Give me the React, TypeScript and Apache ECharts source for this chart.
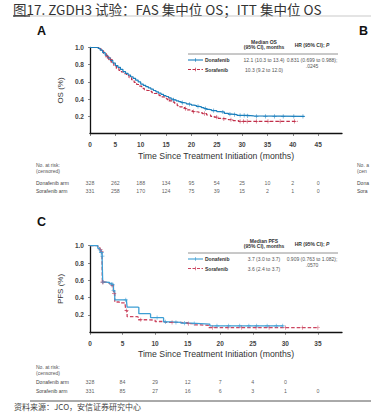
import React, { useEffect, useRef } from 'react';
import * as echarts from 'echarts';

const titleText = '图17. ZGDH3 试验：FAS 集中位 OS；ITT 集中位 OS';
const sourceText = '资料来源：JCO，安信证券研究中心';

// OS (panel A) Kaplan-Meier step points [months, survival]
const osDonafenib: [number, number][] = [
  [0, 1], [1.3, 1], [1.6, 0.99], [2.0, 0.97], [2.5, 0.94], [3.0, 0.91], [3.5, 0.88], [4.0, 0.85], [4.5, 0.82],
  [5.0, 0.79], [5.5, 0.77], [6.0, 0.745], [6.5, 0.72], [7.0, 0.70], [7.5, 0.68], [8.0, 0.66], [8.5, 0.64],
  [9.0, 0.62], [9.5, 0.60], [10.0, 0.575], [10.5, 0.56], [11, 0.545], [11.5, 0.53], [12, 0.515], [12.5, 0.50],
  [13, 0.485], [13.5, 0.47], [14, 0.455], [14.5, 0.44], [15, 0.43], [15.5, 0.415], [16, 0.40], [16.5, 0.39],
  [17, 0.38], [17.5, 0.37], [18, 0.36], [18.5, 0.355], [19, 0.345], [19.5, 0.34], [20, 0.33], [20.5, 0.325],
  [21, 0.315], [21.5, 0.31], [22, 0.30], [22.5, 0.29], [23, 0.28], [23.5, 0.275], [24, 0.265], [25, 0.255],
  [25.7, 0.25], [26.5, 0.235], [27.3, 0.225], [28, 0.22], [29, 0.21], [31, 0.205], [32.3, 0.20], [42.3, 0.20],
];
const osSorafenib: [number, number][] = [
  [0, 1], [1.3, 1], [1.7, 0.985], [2.2, 0.96], [2.7, 0.93], [3.2, 0.89], [3.7, 0.86], [4.2, 0.82], [4.7, 0.785],
  [5.2, 0.755], [5.7, 0.735], [6.2, 0.715], [6.7, 0.695], [7.2, 0.675], [7.7, 0.65], [8.2, 0.625], [8.7, 0.595],
  [9.2, 0.57], [9.7, 0.55], [10.2, 0.525], [10.7, 0.51], [11.2, 0.50], [11.7, 0.49], [12.2, 0.475], [12.7, 0.465],
  [13.2, 0.45], [13.7, 0.44], [14.2, 0.425], [14.7, 0.41], [15.2, 0.395], [15.7, 0.38], [16.2, 0.365],
  [16.7, 0.345], [17.2, 0.325], [17.7, 0.31], [18.2, 0.30], [18.7, 0.29], [19.2, 0.275], [19.7, 0.265],
  [20.2, 0.255], [20.7, 0.25], [21.5, 0.24], [22.2, 0.23], [23, 0.215], [23.8, 0.20], [24.5, 0.19],
  [25.3, 0.175], [26, 0.17], [27.3, 0.16], [28.2, 0.15], [29.3, 0.14], [41, 0.14],
];
const osDonCensor = [16.5, 18.2, 19.6, 21.3, 22.8, 24.4, 26.2, 27.6, 28.5, 29.6, 30.4, 31.1, 32.8, 34.6, 36.4, 38.1, 40.2, 42.0];
const osSoraCensor = [3.4, 4.1, 15.6, 18.8, 20.4, 22.6, 25.0, 26.4, 27.8, 29.6, 30.3, 31.0, 32.8, 35.1, 37.5, 40.3];

// PFS (panel C)
const pfsDonafenib: [number, number][] = [
  [0, 1], [0.9, 1], [1.2, 0.97], [1.5, 0.95], [1.7, 0.92], [1.85, 0.88], [1.95, 0.58], [2.5, 0.575],
  [3.0, 0.565], [3.3, 0.555], [3.6, 0.48], [3.8, 0.375], [5.6, 0.365], [5.7, 0.29], [7.4, 0.285],
  [7.5, 0.215], [9.2, 0.21], [9.3, 0.17], [11.2, 0.165], [11.3, 0.12], [12.5, 0.115], [14, 0.105],
  [15.5, 0.10], [17, 0.095], [18.4, 0.075], [29.7, 0.075],
];
const pfsSorafenib: [number, number][] = [
  [0, 1], [0.9, 1], [1.2, 0.975], [1.5, 0.955], [1.7, 0.93], [1.85, 0.85], [1.9, 0.58], [2.5, 0.57],
  [3.0, 0.56], [3.3, 0.54], [3.6, 0.45], [3.8, 0.35], [4.5, 0.34], [5.4, 0.32], [5.5, 0.25], [5.7, 0.18],
  [7.3, 0.175], [7.4, 0.145], [9, 0.14], [10, 0.125], [11.5, 0.115], [13, 0.11], [15, 0.10], [16, 0.085],
  [17, 0.08], [18.2, 0.055], [35, 0.055],
];
const pfsDonCensor = [1.5, 1.7, 1.8, 1.9, 2.0, 3.3, 3.5, 3.6, 5.5, 10.3, 11.6, 13.2, 14.5, 16.0, 19.5, 21.3, 23.0, 24.4, 25.6, 27.2, 28.6, 29.6];
const pfsSoraCensor = [1.6, 1.8, 1.9, 2.0, 3.4, 3.7, 5.6, 7.8, 12.6, 15.1, 18.8, 21.2, 23.3, 25.5, 27.5, 30.0, 32.6, 35.0];

// Tick labels
const osTicks = [0, 5, 10, 15, 20, 25, 30, 35, 40, 45];
const pfsTicks = [0, 5, 10, 15, 20, 25, 30, 35];
const yTicks = [0.2, 0.4, 0.6, 0.8, 1.0];

// Number at risk
const osRiskDon = [328, 262, 188, 134, 95, 54, 25, 10, 2, 0];
const osRiskSora = [331, 258, 170, 124, 75, 39, 15, 2, 1, 0];
const pfsRiskDon = [328, 84, 29, 12, 7, 4, 0];
const pfsRiskSora = [331, 85, 27, 16, 6, 3, 1, 0];

// Legend tables
const osLegendHeader = ['Median OS', '(95% CI), months'];
const pfsLegendHeader = ['Median PFS', '(95% CI), months'];
const armNames = ['Donafenib', 'Sorafenib'];
const osMedians = ['12.1 (10.3 to 13.4)', '10.3 (9.2 to 12.0)'];
const pfsMedians = ['3.7 (3.0 to 3.7)', '3.6 (2.4 to 3.7)'];
const osHR = ['0.831 (0.699 to 0.988);', '.0245'];
const pfsHR = ['0.909 (0.763 to 1.082);', '.0570'];
const riskRowLabels = ['Donafenib arm', 'Sorafenib arm'];

const BLUE_A = '#1b7fbd';
const RED_A = '#c12f4a';
const BLUE_C = '#3d9ed4';
const RED_C = '#cc4660';
const FONT = 'Liberation Sans, Arial, sans-serif';

function stepValue(curve: [number, number][], t: number) {
  let v = curve[0][1];
  for (const [x, y] of curve) {
    if (x <= t) v = y;
    else break;
  }
  return v;
}

const PLUS = 'path://M0.42,0H0.58V1H0.42Z M0,0.42H1V0.58H0Z';

export default function App() {
  const ref = useRef<HTMLDivElement>(null);
  useEffect(() => {
    if (!ref.current) return;
    const chart = echarts.init(ref.current, undefined, { renderer: 'svg' });

    const gA = { left: 90, top: 47.5, width: 252, height: 86 };
    const gC = { left: 90, top: 245.7, width: 252, height: 86.6 };
    const maxA = 49.7;
    const maxC = 38.7;

    const xAxisBase = (max: number, ticks: number[], gridIndex: number, name: string, nameGap: number, labelMargin: number) => ({
      type: 'value', gridIndex, min: 0, max, interval: 5,
      name, nameLocation: 'middle', nameGap,
      nameTextStyle: { fontFamily: FONT, fontSize: 8.7, color: '#333' },
      axisLine: { show: true, onZero: false, lineStyle: { color: '#111', width: 1.3 } },
      axisTick: { show: true, length: 2.5, customValues: ticks, lineStyle: { color: '#333', width: 0.6 } },
      axisLabel: { show: true, customValues: ticks, margin: labelMargin, fontFamily: FONT, fontSize: 6.5, color: '#444', fontWeight: 'bold' },
      splitLine: { show: false },
    });
    const yAxisBase = (gridIndex: number, name: string) => ({
      type: 'value', gridIndex, min: 0, max: 1, interval: 0.2,
      name, nameLocation: 'middle', nameGap: 20, nameRotate: 90,
      nameTextStyle: { fontFamily: FONT, fontSize: 8, color: '#333' },
      axisLine: { show: true, lineStyle: { color: '#111', width: 1.3 } },
      axisTick: { show: true, length: 2, customValues: yTicks, lineStyle: { color: '#333', width: 0.6 } },
      axisLabel: { show: true, customValues: yTicks, margin: 6, fontFamily: FONT, fontSize: 6.5, color: '#444', fontWeight: 'bold', formatter: (v: number) => v.toFixed(1) },
      splitLine: { show: false },
    });
    const hiddenX = (gridIndex: number, max: number) => ({ type: 'value', gridIndex, min: 0, max, show: false });
    const hiddenY = (gridIndex: number) => ({ type: 'value', gridIndex, min: 0, max: 1, show: false });

    const km = (data: [number, number][], xi: number, color: string, dashed: boolean, w = 1.2) => ({
      type: 'line', xAxisIndex: xi, yAxisIndex: xi, data, step: 'end', showSymbol: false, symbol: 'none',
      lineStyle: { color, width: w, type: dashed ? [3.5, 2] : 'solid' }, z: dashed ? 3 : 4, silent: true,
    });
    const censor = (curve: [number, number][], times: number[], xi: number, color: string) => ({
      type: 'scatter', xAxisIndex: xi, yAxisIndex: xi, symbol: PLUS, symbolSize: 4.2,
      data: times.map((t) => [t, stepValue(curve, t)]),
      itemStyle: { color }, z: 5, silent: true,
    });
    const risk = (vals: number[], ticks: number[], xi: number, row: number) => ({
      type: 'scatter', xAxisIndex: xi, yAxisIndex: xi, symbolSize: 1,
      itemStyle: { color: 'rgba(0,0,0,0)' },
      data: vals.map((n, i) => [ticks[i], row, n]),
      label: { show: true, position: 'inside', formatter: (p: any) => String(p.data[2]), fontFamily: FONT, fontSize: 5.3, color: '#333' },
      silent: true,
    });

    const t = (x: number, y: number, text: string, o: any = {}) => ({
      type: 'text', x, y, silent: true,
      style: { text, fontFamily: FONT, fontSize: 5, fill: '#333', textAlign: 'left', textVerticalAlign: 'middle', ...o },
    });
    const ln = (x1: number, y1: number, x2: number, y2: number, stroke: string, lineWidth = 0.8, lineDash?: number[]) => ({
      type: 'line', silent: true, shape: { x1, y1, x2, y2 }, style: { stroke, lineWidth, lineDash },
    });

    const legendBlock = (y0: number, header: string[], medians: string[], hr: string[], blue: string, red: string) => {
      const els: any[] = [];
      els.push(t(264, y0, header[0], { fontWeight: 'bold', textAlign: 'center', fontSize: 5 }));
      els.push(t(264, y0 + 5.5, header[1], { fontWeight: 'bold', textAlign: 'center', fontSize: 5 }));
      els.push({
        type: 'text', x: 312, y: y0 + 3, silent: true,
        style: {
          text: '{b|HR (95% CI); }{i|P}', textAlign: 'center', textVerticalAlign: 'middle',
          rich: {
            b: { fontFamily: FONT, fontSize: 5, fontWeight: 'bold', fill: '#333' },
            i: { fontFamily: FONT, fontSize: 5, fontWeight: 'bold', fontStyle: 'italic', fill: '#333' },
          },
        },
      });
      els.push(ln(188, y0 + 12.5, 338, y0 + 12.5, '#777', 0.8));
      const r1 = y0 + 18.5;
      const r2 = y0 + 28;
      els.push(ln(188, r1, 203, r1, blue, 1.1));
      els.push(ln(195.5, r1 - 1.8, 195.5, r1 + 1.8, blue, 0.7));
      els.push(ln(188, r2, 203, r2, red, 1.1, [3, 1.5]));
      els.push(ln(195.5, r2 - 1.8, 195.5, r2 + 1.8, red, 0.7));
      els.push(t(205, r1, armNames[0], { fontWeight: 'bold' }));
      els.push(t(205, r2, armNames[1], { fontWeight: 'bold' }));
      els.push(t(264, r1, medians[0], { textAlign: 'center', fill: '#555' }));
      els.push(t(264, r2, medians[1], { textAlign: 'center', fill: '#555' }));
      els.push(t(312, r1, hr[0], { textAlign: 'center', fill: '#555' }));
      els.push(t(312, r1 + 6, hr[1], { textAlign: 'center', fill: '#555' }));
      return els;
    };

    const riskLabels = (yTop: number, r1: number, r2: number, x = 36, clip?: number) => {
      const extra = clip ? { width: clip, overflow: 'truncate', ellipsis: '' } : {};
      return [
        t(x, yTop, 'No. at risk:', { fontSize: 5, fill: '#555', ...extra }),
        t(x, yTop + 6, '(censored)', { fontSize: 5, fill: '#555', ...extra }),
        t(x, r1, riskRowLabels[0], { fontSize: 5, fill: '#444', ...extra }),
        t(x, r2, riskRowLabels[1], { fontSize: 5, fill: '#444', ...extra }),
      ];
    };

    const option: any = {
      animation: false,
      backgroundColor: '#ffffff',
      grid: [
        gA,
        { left: 90, top: 182.7, width: 252, height: 8.3 },
        gC,
        { left: 90, top: 381.7, width: 252, height: 9 },
      ],
      xAxis: [
        xAxisBase(maxA, osTicks, 0, 'Time Since Treatment Initiation (months)', 18, 7.5),
        hiddenX(1, maxA),
        xAxisBase(maxC, pfsTicks, 2, 'Time Since Treatment Initiation (months)', 17.5, 7.5),
        hiddenX(3, maxC),
      ],
      yAxis: [yAxisBase(0, 'OS (%)'), hiddenY(1), yAxisBase(2, 'PFS (%)'), hiddenY(3)],
      series: [
        km(osSorafenib, 0, RED_A, true),
        km(osDonafenib, 0, BLUE_A, false),
        censor(osSorafenib, osSoraCensor, 0, RED_A),
        censor(osDonafenib, osDonCensor, 0, BLUE_A),
        risk(osRiskDon, osTicks, 1, 1),
        risk(osRiskSora, osTicks, 1, 0),
        km(pfsSorafenib, 2, RED_C, true, 1.3),
        km(pfsDonafenib, 2, BLUE_C, false, 1.3),
        censor(pfsSorafenib, pfsSoraCensor, 2, RED_C),
        censor(pfsDonafenib, pfsDonCensor, 2, BLUE_C),
        risk(pfsRiskDon, pfsTicks, 3, 1),
        risk(pfsRiskSora, pfsTicks, 3, 0),
      ],
      graphic: [
        t(13, 8.5, titleText, { fontFamily: 'Noto Sans CJK SC', fontSize: 13.5, fill: '#333' }),
        ln(13, 16, 371, 16, '#bbb', 0.8),
        ln(13, 16, 30, 16, '#333', 1.2),
        t(37, 31, 'A', { fontFamily: FONT, fontSize: 12.5, fontWeight: 'bold', fill: '#111' }),
        t(359, 31, 'B', { fontFamily: FONT, fontSize: 12.5, fontWeight: 'bold', fill: '#111' }),
        t(37, 222, 'C', { fontFamily: FONT, fontSize: 12.5, fontWeight: 'bold', fill: '#111' }),
        ...legendBlock(41.5, osLegendHeader, osMedians, osHR, BLUE_A, RED_A),
        ...legendBlock(240.5, pfsLegendHeader, pfsMedians, pfsHR, BLUE_C, RED_C),
        ...riskLabels(165, 182.7, 191),
        ...riskLabels(165, 182.7, 191, 357, 13),
        ...riskLabels(366.5, 381.7, 390.7),
        ln(30, 401, 371, 401, '#555', 1),
        t(14, 406.5, sourceText, { fontFamily: 'Noto Sans CJK SC', fontSize: 8, fill: '#444' }),
      ],
    };
    chart.setOption(option);
    return () => chart.dispose();
  }, []);
  return <div ref={ref} style={{ position: 'absolute', left: 0, top: 0, width: 371, height: 412, background: '#fff' }} />;
}
